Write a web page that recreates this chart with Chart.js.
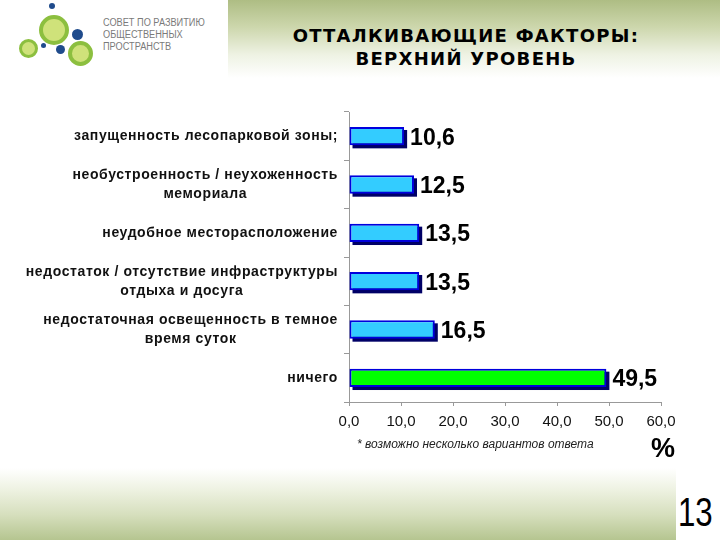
<!DOCTYPE html>
<html>
<head>
<meta charset="utf-8">
<script src="https://cdn.jsdelivr.net/npm/chart.js@4/dist/chart.umd.min.js"></script>
<style>
  body { margin: 0; width: 720px; height: 540px; background: #fff; position: relative; overflow: hidden; font-family: "Liberation Sans", Arial, sans-serif; }
  .head { position: absolute; left: 228px; top: 0; width: 492px; height: 78px;
          background: linear-gradient(to bottom, #aebd84 0%, #cdd7ad 35%, #eef2e3 70%, #ffffff 100%); }
  .foot { position: absolute; left: 0; top: 468px; width: 676px; height: 72px;
          background: linear-gradient(to bottom, #ffffff 0%, #eef2e2 30%, #d6dfbd 65%, #b5c590 100%); }
  .title { position: absolute; left: 220px; width: 492px; top: 24px; text-align: center;
           font: bold 18px "DejaVu Sans", sans-serif; line-height: 23px; letter-spacing: 1.3px; color: #000; }
  .org { position: absolute; left: 103px; top: 17px; font: 10px "Liberation Sans", sans-serif;
         line-height: 12px; color: #7a7a7a; transform: scaleX(0.92); transform-origin: left top; }
  .dot { position: absolute; border-radius: 50%; }
  .ring { position: absolute; border-radius: 50%; background: #cfe27a; border: 4px solid #8cbf3f; box-sizing: border-box; }
  .note { position: absolute; left: 357px; top: 437px; font: italic 12px "Liberation Sans", sans-serif; color: #222; }
  .pct { position: absolute; left: 651px; top: 433px; font: bold 27px "Liberation Sans", sans-serif; color: #000; }
  .page { position: absolute; left: 678px; top: 492px; font: 40px "Liberation Sans", sans-serif; line-height: 40px; color: #000;
          transform: scaleX(0.78); transform-origin: left top; }
  #wrap { position: absolute; left: 0; top: 95px; width: 720px; height: 350px; }
</style>
</head>
<body>
<div class="head"></div>
<div class="foot"></div>

<div class="ring" style="left:39px;top:15px;width:30px;height:30px;"></div>
<div class="ring" style="left:19px;top:39px;width:19px;height:19px;border-width:3px;"></div>
<div class="ring" style="left:68px;top:41px;width:25px;height:25px;"></div>
<div class="dot" style="left:49px;top:3px;width:6px;height:6px;background:#1f4b8c;"></div>
<div class="dot" style="left:72px;top:29px;width:11px;height:11px;background:#1f4b8c;"></div>
<div class="dot" style="left:56px;top:45px;width:9px;height:9px;background:#1f4b8c;"></div>
<div class="dot" style="left:41px;top:43px;width:5px;height:5px;background:#1f4b8c;"></div>
<div class="org">СОВЕТ ПО РАЗВИТИЮ<br>ОБЩЕСТВЕННЫХ<br>ПРОСТРАНСТВ</div>

<div class="title">ОТТАЛКИВАЮЩИЕ ФАКТОРЫ:<br>ВЕРХНИЙ УРОВЕНЬ</div>

<div id="wrap"><canvas id="grafica"></canvas></div>

<div class="note">* возможно несколько вариантов ответа</div>
<div class="pct">%</div>
<div class="page">13</div>

<script>
const categorias = [
    'запущенность лесопарковой зоны;',
    ['необустроенность / неухоженность', 'мемориала'],
    'неудобное месторасположение',
    ['недостаток / отсутствие инфраструктуры', 'отдыха и досуга'],
    ['недостаточная освещенность в темное', 'время суток'],
    'ничего'
];
const valores = [10.6, 12.5, 13.5, 13.5, 16.5, 49.5];
const coloresBarra = ['#33ccff', '#33ccff', '#33ccff', '#33ccff', '#33ccff', '#00ff00'];
const ticksX = [0, 10, 20, 30, 40, 50, 60];

const coma = v => v.toFixed(1).replace('.', ',');

// sombra oscura detrás de cada barra + valores
const sombra = {
    id: 'sombra',
    beforeDatasetsDraw(chart) {
        const ctx = chart.ctx;
        ctx.save();
        ctx.fillStyle = '#000066';
        chart.getDatasetMeta(0).data.forEach(bar => {
            const h = bar.height;
            ctx.fillRect(bar.base + 3, bar.y - h / 2 + 3, bar.x - bar.base, h);
        });
        ctx.restore();
    },
    afterDatasetsDraw(chart) {
        const ctx = chart.ctx;
        ctx.save();
        ctx.font = 'bold 23px "Liberation Sans", Arial, sans-serif';
        ctx.fillStyle = '#000';
        ctx.textBaseline = 'middle';
        ctx.textAlign = 'left';
        chart.getDatasetMeta(0).data.forEach((bar, i) => {
            ctx.fillText(coma(valores[i]), bar.x + 6, bar.y + 2);
        });
        ctx.restore();
    }
};

// etiquetas de categoría: alineadas a la derecha, líneas centradas entre sí
const etiquetas = {
    id: 'etiquetas',
    afterDraw(chart) {
        const ctx = chart.ctx;
        const y = chart.scales.y;
        const derecha = chart.chartArea.left - 11;
        ctx.save();
        ctx.font = 'bold 14px "Liberation Sans", Arial, sans-serif';
        ctx.letterSpacing = '0.6px';
        ctx.fillStyle = '#111';
        ctx.textBaseline = 'middle';
        ctx.textAlign = 'center';
        categorias.forEach((lab, i) => {
            const lineas = Array.isArray(lab) ? lab : [lab];
            const ancho = Math.max(...lineas.map(l => ctx.measureText(l).width));
            const cx = derecha - ancho / 2;
            const y0 = y.getPixelForValue(i) - (lineas.length - 1) * 19 / 2;
            lineas.forEach((l, k) => ctx.fillText(l, cx, y0 + k * 19));
        });
        ctx.restore();
    }
};

const config = {
    type: 'bar',
    data: {
        labels: categorias,
        datasets: [{
            data: valores,
            backgroundColor: coloresBarra,
            borderColor: '#0000dd',
            borderWidth: 2,
            borderSkipped: false,
            barPercentage: 0.38,
            categoryPercentage: 1
        }]
    },
    options: {
        indexAxis: 'y',
        responsive: true,
        maintainAspectRatio: false,
        animation: false,
        layout: { padding: { left: 341, right: 59, top: 17, bottom: 13 } },
        plugins: { legend: { display: false }, tooltip: { enabled: false } },
        scales: {
            x: {
                min: 0, max: 60,
                afterBuildTicks: s => { s.ticks = ticksX.map(v => ({ value: v })); },
                afterFit: s => { s.height = 30; },
                grid: { drawOnChartArea: false, tickLength: 4, color: '#999' },
                border: { color: '#999' },
                ticks: {
                    callback: v => coma(v),
                    font: { size: 15, family: '"Liberation Sans", Arial, sans-serif' },
                    color: '#111',
                    padding: 7,
                    maxRotation: 0
                }
            },
            y: {
                afterFit: s => { s.width = 8; },
                grid: { drawOnChartArea: false, offset: true, tickLength: 5, color: '#999' },
                border: { color: '#999' },
                ticks: { display: false }
            }
        }
    },
    plugins: [sombra, etiquetas]
};

const $graph = document.getElementById('grafica');
if ($graph) {
    new Chart($graph, config);
} else {
    console.error('Elemento del gráfico no encontrado');
}
</script>
</body>
</html>
